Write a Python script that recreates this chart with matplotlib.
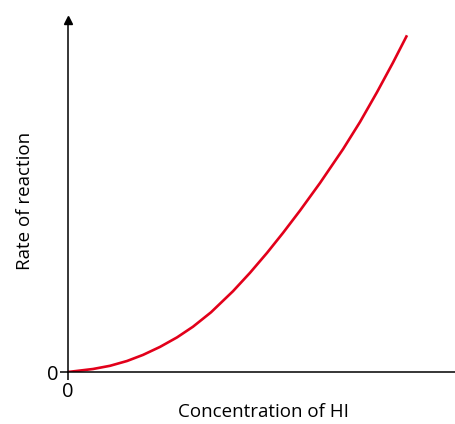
import matplotlib.pyplot as plt

# rate vs concentration of HI (arbitrary units)
conc = [0, 2.5, 4.2, 5.9, 7.5, 9.2, 10.9, 12.5, 14.3, 16.5, 18.2, 19.9,
        21.5, 23.2, 25.2, 27.5, 29.2, 30.9, 32.5, 33.9]
rate = [0, 0.3, 0.62, 1.1, 1.71, 2.51, 3.46, 4.53, 5.97, 8.08, 9.92, 11.91,
        13.91, 16.14, 18.9, 22.28, 25.0, 27.98, 30.94, 33.67]

plt.rcParams['font.family'] = ['Open Sans', 'DejaVu Sans']

fig = plt.figure(figsize=(4.56, 4.24), dpi=100)
ax = fig.add_axes([68/456, 52/424, 388/456, 352/424])

ax.plot(conc, rate, color='#e2001a', lw=1.9, solid_capstyle='butt', solid_joinstyle='round')

ax.set_xlim(0, 38.8)
ax.set_ylim(0, 35.2)

for s in ['top', 'right']:
    ax.spines[s].set_visible(False)
for s in ['left', 'bottom']:
    ax.spines[s].set_linewidth(1.1)
    ax.spines[s].set_color('black')

# arrow head on the y axis
ax.plot(0, 1, marker='^', color='black', markersize=6, transform=ax.transAxes, clip_on=False)

ax.set_xticks([0])
ax.set_yticks([0])
ax.set_xticklabels(['0'])
ax.set_yticklabels(['0'])
ax.tick_params(length=6, width=1.1, labelsize=14.5, pad=1)

fig.text(263/456, 1 - 412/424, 'Concentration of HI', ha='center', va='center', fontsize=13.5)
fig.text(25/456, 1 - 201/424, 'Rate of reaction', ha='center', va='center', rotation=90, fontsize=13.5)

fig.savefig('out.png', dpi=100)
